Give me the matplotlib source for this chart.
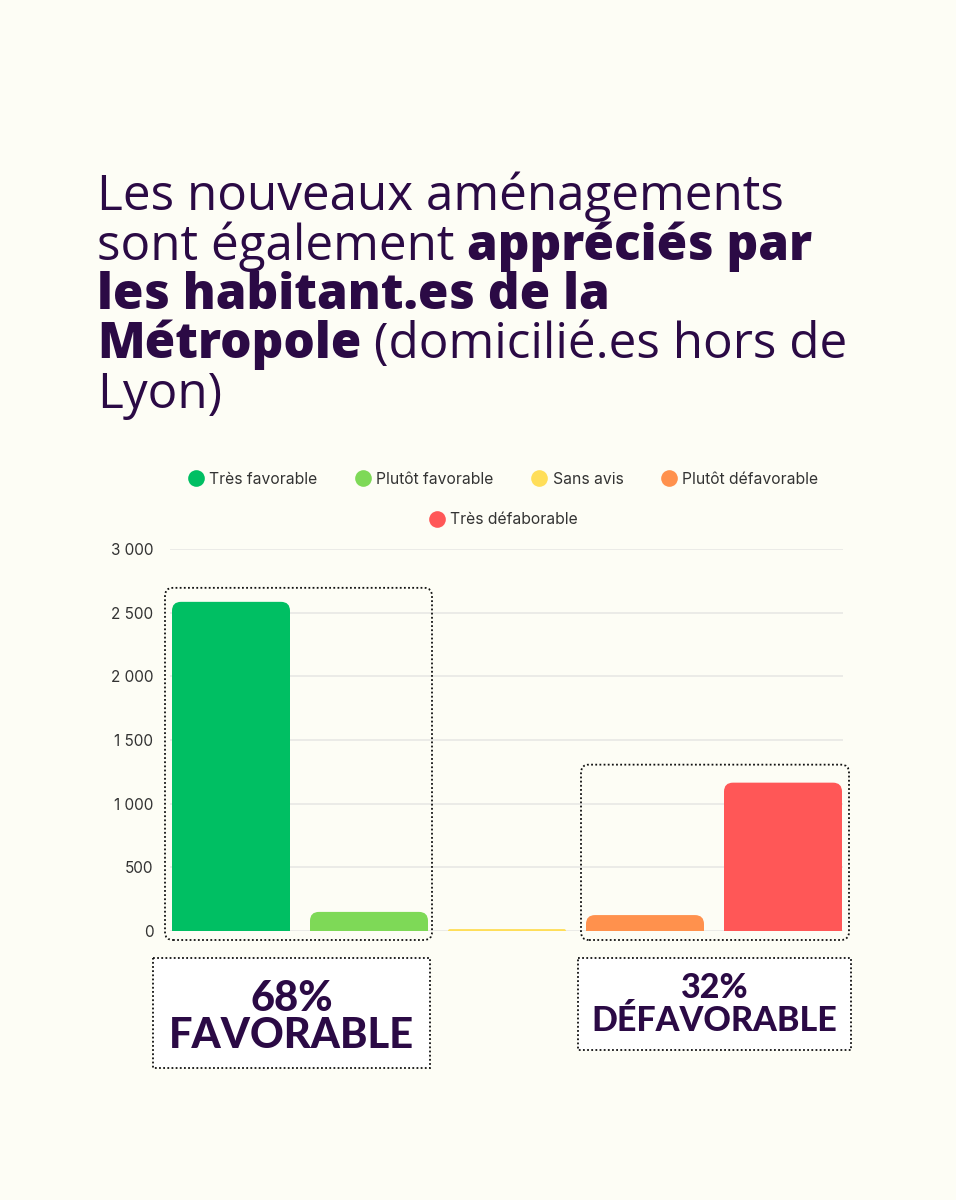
import matplotlib
matplotlib.use("Agg")
import matplotlib.pyplot as plt
from matplotlib.path import Path
from matplotlib.patches import PathPatch, FancyBboxPatch, Rectangle
from matplotlib.lines import Line2D
from matplotlib.ticker import FuncFormatter

# ---------------- data ----------------
categories = ["Très favorable", "Plutôt favorable", "Sans avis",
              "Plutôt défavorable", "Très défaborable"]
values = [2585, 150, 15, 125, 1165]
colors = ["#00BF63", "#7ED957", "#FFDE59", "#FF914D", "#FF5757"]
yticks = [0, 500, 1000, 1500, 2000, 2500, 3000]
summary_labels = [("68%", "FAVORABLE"), ("32%", "DÉFAVORABLE")]

BG = "#FDFDF5"
PURPLE = "#2B0A45"
TXT = "#333333"
TITLE_FONT = "Open Sans"
BOX_FONT = "Lato"

W, H = 956, 1200
fig = plt.figure(figsize=(W / 100, H / 100), dpi=100, facecolor=BG)

# ---------------- title ----------------
tax = fig.add_axes([0, 0, 1, 1], facecolor="none")
tax.set_xlim(0, W)
tax.set_ylim(H, 0)
tax.axis("off")

title_lines = [
    [("Les nouveaux aménagements", "normal")],
    [("sont également ", "normal"), ("appréciés par", 800)],
    [("les habitant.es de la", 800)],
    [("Métropole", 800), (" (domicilié.es hors de", "normal")],
    [("Lyon)", "normal")],
]
baselines = [210, 260, 309, 358, 408]
renderer = fig.canvas.get_renderer()
for line, yb in zip(title_lines, baselines):
    x = 97
    for txt, wt in line:
        t = tax.text(x, yb, txt, fontsize=35.6, fontweight=wt, color=PURPLE,
                     family=TITLE_FONT, va="baseline", ha="left")
        bb = t.get_window_extent(renderer)
        x = x + bb.width

# ---------------- bar chart ----------------
ax_left, ax_right = 170, 843
ax_top, ax_bot = 549, 931
ax = fig.add_axes([ax_left / W, 1 - ax_bot / H, (ax_right - ax_left) / W,
                   (ax_bot - ax_top) / H], facecolor="none")
xs = list(range(len(categories)))
x0 = (ax_left - 231) / 138
x1 = (ax_right - 231) / 138
ax.set_xlim(x0, x1)
ax.set_ylim(0, 3000)
px_x = (ax_right - ax_left) / (x1 - x0)  # px per x unit
px_y = (ax_bot - ax_top) / 3000.0        # px per y unit

bw = 118 / 138
bars = ax.bar(xs, values, width=bw, color=colors)
rad = 9  # px
for b, c in zip(bars, colors):
    b.set_visible(False)
    bx, bwid, bh = b.get_x(), b.get_width(), b.get_height()
    rpx = min(rad, bh * px_y)
    rx, ry = rpx / px_x, rpx / px_y
    verts = [(bx, 0), (bx, bh - ry), (bx, bh), (bx + rx, bh),
             (bx + bwid - rx, bh), (bx + bwid, bh), (bx + bwid, bh - ry),
             (bx + bwid, 0), (bx, 0)]
    codes = [Path.MOVETO, Path.LINETO, Path.CURVE3, Path.CURVE3,
             Path.LINETO, Path.CURVE3, Path.CURVE3, Path.LINETO, Path.CLOSEPOLY]
    ax.add_patch(PathPatch(Path(verts, codes), facecolor=c, edgecolor="none",
                           zorder=3))

ax.set_yticks(yticks)
ax.yaxis.set_major_formatter(FuncFormatter(lambda v, p: f"{int(v):,}".replace(",", " ")))
ax.tick_params(axis="y", length=0, pad=12, labelsize=11, labelcolor=TXT)
for lab in ax.get_yticklabels():
    lab.set_family("Inter")
ax.set_xticks([])
ax.grid(axis="y", color="#E6E6E3", linewidth=1.1, zorder=0)
ax.set_axisbelow(True)
for s in ax.spines.values():
    s.set_visible(False)


def dotted_box(i0, i1, top_pad_px, lpad, rpad):
    left = bars[i0].get_x() - lpad / px_x
    right = bars[i1].get_x() + bars[i1].get_width() + rpad / px_x
    top = max(values[i0:i1 + 1]) + top_pad_px / px_y
    bottom = -9 / px_y
    aspect = (1 / px_y) / (1 / px_x)
    p = FancyBboxPatch((left, bottom), right - left, top - bottom,
                       boxstyle=f"round,pad=0,rounding_size={8 / px_x}",
                       mutation_aspect=aspect, facecolor="none",
                       edgecolor="#111111", linewidth=1.3,
                       linestyle=(0, (1, 1.3)), clip_on=False, zorder=4)
    ax.add_patch(p)


dotted_box(0, 1, 14, 7, 4)
dotted_box(3, 4, 18, 5, 7)

# ---------------- legend ----------------
def handles(idx):
    return [Line2D([], [], marker="o", linestyle="none", markersize=12,
                   markerfacecolor=colors[i], markeredgecolor="none") for i in idx]

leg_kw = dict(frameon=False, handlelength=0.8, handletextpad=0.45,
              columnspacing=2.5, prop={"family": "Inter", "size": 11.3},
              labelcolor=TXT, loc="center")
leg1 = fig.legend(handles([0, 1, 2, 3]), categories[:4], ncol=4,
                  bbox_to_anchor=(504 / W, 1 - 479 / H), **leg_kw)
leg2 = fig.legend(handles([4]), categories[4:], ncol=1,
                  bbox_to_anchor=(504 / W, 1 - 520 / H), **leg_kw)

# ---------------- summary boxes ----------------
boxes = [(153, 958, 430, 1068, 999, 1036, 30), (578, 958, 851, 1050, 988, 1021, 24.5)]
for (l, t, r, b, y1, y2, fs), (pct, lab) in zip(boxes, summary_labels):
    tax.add_patch(Rectangle((l, t), r - l, b - t, facecolor="white",
                            edgecolor="#111111", linewidth=1.3,
                            linestyle=(0, (1, 1.3))))
    cx = (l + r) / 2
    tax.text(cx, y1, pct, fontsize=fs, fontweight="black", family=BOX_FONT,
             color=PURPLE, ha="center", va="center")
    tax.text(cx, y2, lab, fontsize=fs, fontweight="black", family=BOX_FONT,
             color=PURPLE, ha="center", va="center")

fig.savefig("out.png", dpi=100, facecolor=BG)
